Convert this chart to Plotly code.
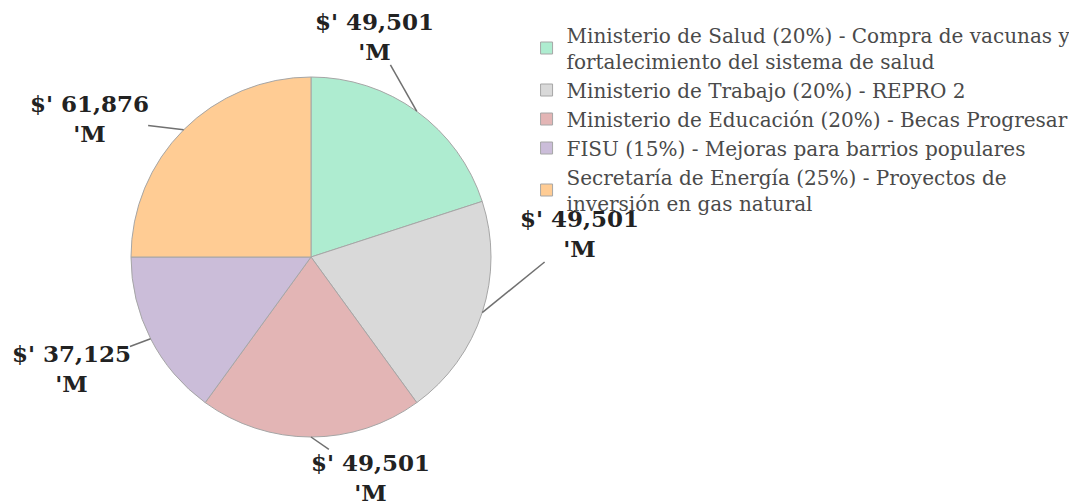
import math
import plotly.graph_objects as go

# Distribución de fondos por organismo
labels = [
    "Ministerio de Salud (20%) - Compra de vacunas y<br>fortalecimiento del sistema de salud",
    "Ministerio de Trabajo (20%) - REPRO 2",
    "Ministerio de Educación (20%) - Becas Progresar",
    "FISU (15%) - Mejoras para barrios populares",
    "Secretaría de Energía (25%) - Proyectos de<br>inversión en gas natural",
]
values = [49501, 49501, 49501, 37125, 61876]
colors = ["#aeecd0", "#d9d9d9", "#e3b5b5", "#cbbdd9", "#ffcc94"]

W, H = 1077, 501
CX, CY, R = 303, 249, 180  # pie centre / radius in pixels (figure coords)
# how far (degrees) each outside label is turned from its slice's middle
label_turn = [-20, -23, -15, 2, -13]
HALF_W, HALF_H = 62, 30  # rough half size of a label block

fig = go.Figure()
fig.add_trace(go.Pie(
    labels=labels,
    values=values,
    sort=False,
    direction="clockwise",
    rotation=0,
    textinfo="none",
    hoverinfo="label+value",
    marker=dict(colors=colors, line=dict(color="#a6a6a6", width=1)),
    domain=dict(x=[(CX - R) / W, (CX + R) / W], y=[1 - (CY + R) / H, 1 - (CY - R) / H]),
))


def to_paper(px, py):
    return px / W, 1 - py / H


total = sum(values)
acc = 0
shapes = []
annotations = []
for v, turn in zip(values, label_turn):
    mid = (acc + v / 2) / total * 2 * math.pi
    acc += v
    lab = mid + math.radians(turn)
    dist = R * (1.19 + 0.31 * abs(math.sin(lab)))
    tx, ty = CX + dist * math.sin(lab), CY - dist * math.cos(lab)

    # leader line: from the slice edge to the edge of the label block
    x0, y0 = CX + R * math.sin(mid), CY - R * math.cos(mid)
    dx, dy = x0 - tx, y0 - ty
    t = min(HALF_W / abs(dx) if dx else 1e9, HALF_H / abs(dy) if dy else 1e9)
    x1, y1 = tx + dx * t * 0.95, ty + dy * t * 0.95
    px0, py0 = to_paper(x0, y0)
    px1, py1 = to_paper(x1, y1)
    shapes.append(dict(type="line", xref="paper", yref="paper", x0=px0, y0=py0, x1=px1, y1=py1,
                       line=dict(color="#707070", width=1.5)))

    ptx, pty = to_paper(tx, ty)
    annotations.append(dict(
        x=ptx, y=pty, xref="paper", yref="paper", showarrow=False,
        text="<b>$' {:,}<br>'M</b>".format(v),
        font=dict(family="DejaVu Serif", size=23, color="#222222"),
        xanchor="center", yanchor="middle",
    ))

fig.update_layout(
    width=W,
    height=H,
    margin=dict(l=0, r=0, t=0, b=0),
    paper_bgcolor="white",
    plot_bgcolor="white",
    font=dict(family="DejaVu Serif", size=20, color="#4a4a4a"),
    showlegend=True,
    legend=dict(x=0.4815, y=0.985, xanchor="left", yanchor="top",
                font=dict(family="DejaVu Serif", size=20, color="#4a4a4a"),
                tracegroupgap=0),
    shapes=shapes,
    annotations=annotations,
)

fig.write_html("out.html")
